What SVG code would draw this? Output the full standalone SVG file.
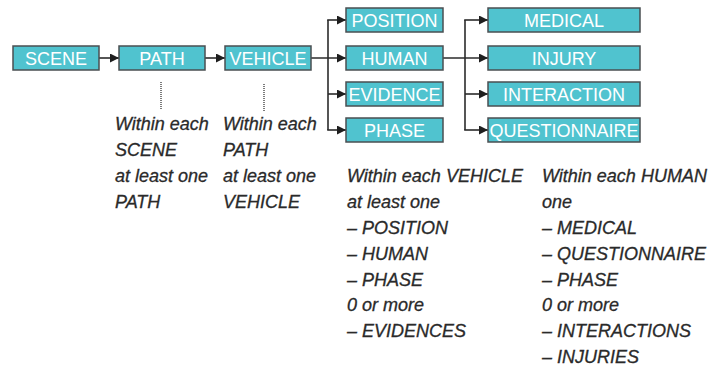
<svg xmlns="http://www.w3.org/2000/svg" width="709" height="367" viewBox="0 0 709 367">
  <style>
    .box rect { fill: #50c3cf; stroke: #4a4f52; stroke-width: 1.5; }
    .box text { font-family: "Liberation Sans", Arial, sans-serif; font-size: 18px; fill: #ffffff; text-anchor: middle; }
    .conn { fill: none; stroke: #2b2b2b; stroke-width: 1.6; }
    .dots { fill: none; stroke: #444; stroke-width: 1.4; stroke-dasharray: 1 1; }
    .note { font-family: "Liberation Sans", Arial, sans-serif; font-size: 18px; font-style: italic; fill: #2a2a2a; stroke: #2a2a2a; stroke-width: 0.3; }
  </style>
  <defs>
    <marker id="arrow" viewBox="0 0 10 10" refX="10" refY="5" markerWidth="9" markerHeight="9" markerUnits="userSpaceOnUse" orient="auto">
      <path d="M0,0 L10,5 L0,10 Z" fill="#1e1e1e"/>
    </marker>
  </defs>

  <rect width="709" height="367" fill="#ffffff"/>

  <g id="connectors">
    <line class="conn" x1="99" y1="58" x2="119" y2="58" marker-end="url(#arrow)"/>
    <line class="conn" x1="205" y1="58" x2="225" y2="58" marker-end="url(#arrow)"/>
    <!-- VEHICLE fan-out -->
    <line class="conn" x1="311" y1="58" x2="346" y2="58" marker-end="url(#arrow)"/>
    <line class="conn" x1="328" y1="20" x2="328" y2="130"/>
    <line class="conn" x1="327.2" y1="20" x2="346" y2="20" marker-end="url(#arrow)"/>
    <line class="conn" x1="328" y1="94" x2="346" y2="94" marker-end="url(#arrow)"/>
    <line class="conn" x1="327.2" y1="130" x2="346" y2="130" marker-end="url(#arrow)"/>
    <!-- HUMAN fan-out -->
    <line class="conn" x1="443" y1="58" x2="488" y2="58" marker-end="url(#arrow)"/>
    <line class="conn" x1="465" y1="20" x2="465" y2="130"/>
    <line class="conn" x1="464.2" y1="20" x2="488" y2="20" marker-end="url(#arrow)"/>
    <line class="conn" x1="465" y1="94" x2="488" y2="94" marker-end="url(#arrow)"/>
    <line class="conn" x1="464.2" y1="130" x2="488" y2="130" marker-end="url(#arrow)"/>
    <!-- annotation leaders -->
    <line class="dots" x1="161" y1="82" x2="161" y2="110"/>
    <line class="dots" x1="264" y1="84" x2="264" y2="112"/>
  </g>

  <g id="scene" class="box"><rect x="13" y="46" width="86" height="24"/><text x="56" y="64.5">SCENE</text></g>
  <g id="path" class="box"><rect x="119" y="46" width="86" height="24"/><text x="162" y="64.5">PATH</text></g>
  <g id="vehicle" class="box"><rect x="225" y="46" width="86" height="24"/><text x="268" y="64.5">VEHICLE</text></g>

  <g id="position" class="box"><rect x="346" y="8" width="97" height="24"/><text x="394.5" y="26.5">POSITION</text></g>
  <g id="human" class="box"><rect x="346" y="46" width="97" height="24"/><text x="394.5" y="64.5">HUMAN</text></g>
  <g id="evidence" class="box"><rect x="346" y="82" width="97" height="24"/><text x="394.5" y="100.5">EVIDENCE</text></g>
  <g id="phase" class="box"><rect x="346" y="118" width="97" height="24"/><text x="394.5" y="136.5">PHASE</text></g>

  <g id="medical" class="box"><rect x="488" y="8" width="152" height="24"/><text x="564" y="26.5">MEDICAL</text></g>
  <g id="injury" class="box"><rect x="488" y="46" width="152" height="24"/><text x="564" y="64.5">INJURY</text></g>
  <g id="interaction" class="box"><rect x="488" y="82" width="152" height="24"/><text x="564" y="100.5">INTERACTION</text></g>
  <g id="questionnaire" class="box"><rect x="488" y="118" width="152" height="24"/><text x="564" y="136.5">QUESTIONNAIRE</text></g>

  <g id="notes">
    <text class="note" x="115" y="130">Within each</text>
    <text class="note" x="115" y="156">SCENE</text>
    <text class="note" x="115" y="182">at least one</text>
    <text class="note" x="115" y="208">PATH</text>

    <text class="note" x="223" y="130">Within each</text>
    <text class="note" x="223" y="156">PATH</text>
    <text class="note" x="223" y="182">at least one</text>
    <text class="note" x="223" y="208">VEHICLE</text>

    <text class="note" x="347" y="182">Within each VEHICLE</text>
    <text class="note" x="347" y="208">at least one</text>
    <text class="note" x="347" y="234">– POSITION</text>
    <text class="note" x="347" y="260">– HUMAN</text>
    <text class="note" x="347" y="286">– PHASE</text>
    <text class="note" x="347" y="311">0 or more</text>
    <text class="note" x="347" y="337">– EVIDENCES</text>

    <text class="note" x="542" y="182">Within each HUMAN</text>
    <text class="note" x="542" y="208">one</text>
    <text class="note" x="542" y="234">– MEDICAL</text>
    <text class="note" x="542" y="260">– QUESTIONNAIRE</text>
    <text class="note" x="542" y="286">– PHASE</text>
    <text class="note" x="542" y="311">0 or more</text>
    <text class="note" x="542" y="337">– INTERACTIONS</text>
    <text class="note" x="542" y="363">– INJURIES</text>
  </g>
</svg>
